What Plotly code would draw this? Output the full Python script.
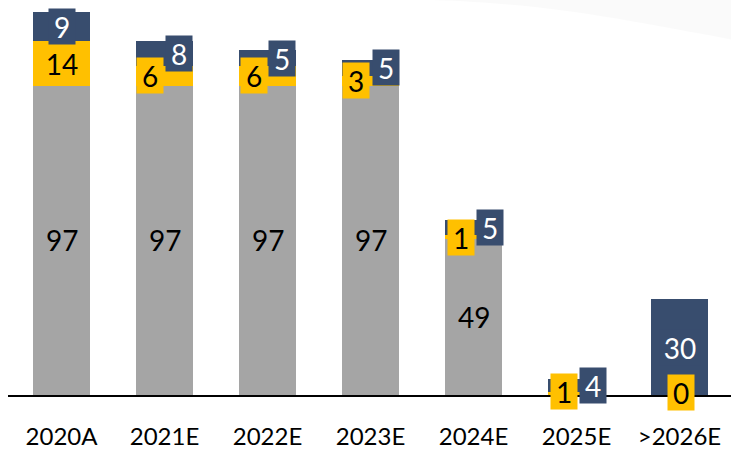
import plotly.graph_objects as go

# Stacked volumes per year: base (grey), mid (amber), top (navy)
categories = ["2020A", "2021E", "2022E", "2023E", "2024E", "2025E", ">2026E"]
base_vals = [97, 97, 97, 97, 49, 0, 0]
mid_vals = [14, 6, 6, 3, 1, 1, 0]
top_vals = [9, 8, 5, 5, 5, 4, 30]

GREY = "#A5A5A5"
AMBER = "#FFC000"
NAVY = "#384D6E"
FONT = "Lato"

# horizontal nudges (px) for the small-segment labels so they don't collide
mid_dx = [0, -14.5, -13.5, -14.5, -12.5, -12.5, 1]
top_dx = [0, 14.5, 14.5, 15.5, 16, 16.5, 0]
mid_dy = [0, 0, 0, 0, 0, 2, 3]

fig = go.Figure()
for vals, color in ((base_vals, GREY), (mid_vals, AMBER), (top_vals, NAVY)):
    fig.add_trace(go.Bar(x=categories, y=vals, marker=dict(color=color, line=dict(width=0)),
                         hoverinfo="skip", showlegend=False))

annotations = []
for i, cat in enumerate(categories):
    b, m, t = base_vals[i], mid_vals[i], top_vals[i]
    if b > 0:
        annotations.append(dict(x=cat, y=b / 2, text=str(b), showarrow=False,
                                font=dict(family=FONT, size=28, color="black")))
    annotations.append(dict(x=cat, y=b + m / 2, text=str(m), showarrow=False,
                            xshift=mid_dx[i], yshift=mid_dy[i],
                            width=26 if m < 10 else 40, height=35, borderpad=0,
                            bgcolor=AMBER, font=dict(family=FONT, size=28, color="black")))
    annotations.append(dict(x=cat, y=b + m + t / 2, text=str(t), showarrow=False,
                            xshift=top_dx[i],
                            width=26 if t < 10 else 40, height=35, borderpad=0,
                            bgcolor=NAVY, font=dict(family=FONT, size=28, color="white")))

fig.update_layout(
    barmode="stack",
    bargap=0.447,
    width=731, height=450,
    margin=dict(l=8, r=0, t=0, b=53),
    paper_bgcolor="white", plot_bgcolor="rgba(0,0,0,0)",
    annotations=annotations,
    shapes=[dict(type="path", xref="paper", yref="paper",
                 path="M 0.585 1.0 C 0.75 0.99 0.85 0.95 1.0 0.9 L 1.0 1.0 Z",
                 fillcolor="rgba(0,0,0,0.02)", line=dict(width=0), layer="below")],
    xaxis=dict(range=[-0.52, 6.5], showline=True, linecolor="black", linewidth=2,
               showgrid=False, zeroline=False, ticks="", ticklabelstandoff=19,
               tickfont=dict(family=FONT, size=24, color="black")),
    yaxis=dict(range=[0, 123.8], visible=False, showgrid=False, zeroline=False),
)

fig.write_html("out.html")
